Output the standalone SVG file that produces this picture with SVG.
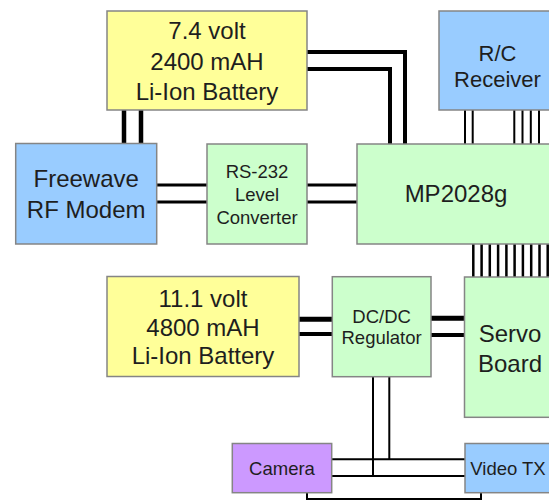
<svg xmlns="http://www.w3.org/2000/svg" width="549" height="500" viewBox="0 0 549 500">
<style>
.box{stroke:#858585;stroke-width:1.5}
.yel{fill:#FFFF99}
.blu{fill:#99CCFF}
.grn{fill:#CCFFCC}
.pur{fill:#CC99FF}
text{font-family:"Liberation Sans",Arial,sans-serif;fill:#1e1e1e;text-anchor:middle}
.big{font-size:24px}
.mid{font-size:22px}
.sm{font-size:18.5px}
.w{fill:none;stroke:#000}
</style>
<rect width="549" height="500" fill="#ffffff"/>
<g id="connectors" class="w">
  <path d="M124 110V144M141 110V144" stroke-width="4.5"/>
  <path d="M307 52H405V144M307 69H390V144" stroke-width="4"/>
  <path d="M157 185H207M157 202H207M307 185H357M307 202H357" stroke-width="3"/>
  <path d="M465 110V144M472.7 110V144M514.3 110V144M522.5 110V144M530.8 110V144M539 110V144" stroke-width="2"/>
  <path d="M473.3 244V277M481.6 244V277M489.8 244V277M498.1 244V277M506.4 244V277M514.6 244V277M522.9 244V277M531.2 244V277M539.5 244V277M547.7 244V277" stroke-width="2.5"/>
  <path d="M299 319.3H332M431 318.3H464" stroke-width="5"/>
  <path d="M299 334H332M431 335H464" stroke-width="4"/>
  <path d="M373 377V476M389.3 377V459.3M332 459.3H465M332 476H465" stroke-width="2"/>
  <path d="M307 493V499H481V493" stroke-width="2"/>
</g>
<g id="battery1">
  <rect class="box yel" x="107" y="11" width="200" height="99"/>
  <text class="big" x="207" y="39.3">7.4 volt</text>
  <text class="big" x="207" y="70">2400 mAH</text>
  <text class="big" x="207" y="100">Li-Ion Battery</text>
</g>
<g id="rc-receiver">
  <rect class="box blu" x="439" y="11" width="117" height="99"/>
  <text class="mid" x="497.5" y="61">R/C</text>
  <text class="mid" x="497.5" y="87">Receiver</text>
</g>
<g id="freewave">
  <rect class="box blu" x="15.7" y="143.5" width="141" height="100.5"/>
  <text class="big" x="86.2" y="187">Freewave</text>
  <text class="big" x="86.2" y="218">RF Modem</text>
</g>
<g id="rs232">
  <rect class="box grn" x="207" y="144" width="100" height="100"/>
  <text class="sm" x="257" y="178.3">RS-232</text>
  <text class="sm" x="257" y="200.5">Level</text>
  <text class="sm" x="257" y="224">Converter</text>
</g>
<g id="mp2028g">
  <rect class="box grn" x="357" y="144" width="198" height="100"/>
  <text class="big" x="456" y="201.7">MP2028g</text>
</g>
<g id="battery2">
  <rect class="box yel" x="107" y="276.5" width="192" height="100"/>
  <text class="big" x="203" y="306.7">11.1 volt</text>
  <text class="big" x="203" y="336">4800 mAH</text>
  <text class="big" x="203" y="364.3">Li-Ion Battery</text>
</g>
<g id="dcdc">
  <rect class="box grn" x="332.3" y="276.7" width="98.7" height="100"/>
  <text class="sm" x="381.6" y="323.3">DC/DC</text>
  <text class="sm" x="381.6" y="344">Regulator</text>
</g>
<g id="servo">
  <rect class="box grn" x="464.5" y="277" width="92" height="140.3"/>
  <text class="big" x="510" y="341.7">Servo</text>
  <text class="big" x="510" y="371.7">Board</text>
</g>
<g id="camera">
  <rect class="box pur" x="232.3" y="443.5" width="99.4" height="49.2"/>
  <text class="sm" x="282" y="475">Camera</text>
</g>
<g id="videotx">
  <rect class="box blu" x="465" y="443.5" width="90" height="49.2"/>
  <text class="sm" x="508" y="475">Video TX</text>
</g>
</svg>
